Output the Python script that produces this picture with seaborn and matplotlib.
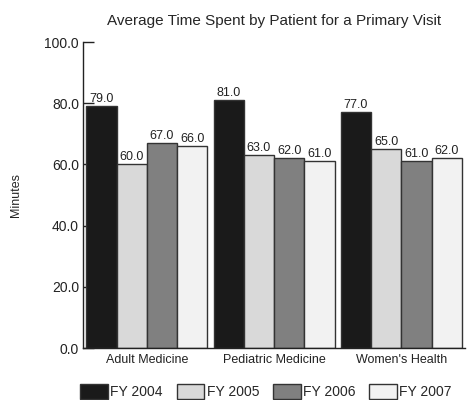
import matplotlib
matplotlib.use("Agg")
import matplotlib.pyplot as plt
import seaborn as sns
import pandas as pd
from matplotlib.ticker import FormatStrFormatter

categories = ["Adult Medicine", "Pediatric Medicine", "Women's Health"]
years = ["FY 2004", "FY 2005", "FY 2006", "FY 2007"]
fy2004 = [79.0, 81.0, 77.0]
fy2005 = [60.0, 63.0, 65.0]
fy2006 = [67.0, 62.0, 61.0]
fy2007 = [66.0, 61.0, 62.0]
colors = ["#1a1a1a", "#d9d9d9", "#808080", "#f2f2f2"]

rows = []
for yr, vals in zip(years, [fy2004, fy2005, fy2006, fy2007]):
    for c, v in zip(categories, vals):
        rows.append({"Category": c, "Year": yr, "Minutes": v})
df = pd.DataFrame(rows)

sns.set_style("white")
plt.rcParams["font.family"] = ["Liberation Sans", "DejaVu Sans"]

fig = plt.figure(figsize=(4.75, 4.0), dpi=100)
ax = fig.add_axes([0.175, 0.13, 0.804, 0.765])

sns.barplot(data=df, x="Category", y="Minutes", hue="Year", order=categories,
            hue_order=years, palette=colors, width=0.95, gap=0,
            edgecolor="#333333", linewidth=1.0, ax=ax, errorbar=None)

for cont in ax.containers:
    ax.bar_label(cont, fmt="%.1f", padding=1, fontsize=9, color="#222222")

ax.set_ylim(0, 100)
ax.set_xlim(-0.5, 2.5)
ax.set_yticks([0, 20, 40, 60, 80, 100])
ax.yaxis.set_major_formatter(FormatStrFormatter("%.1f"))
ax.tick_params(axis="y", direction="in", length=8, width=1, colors="#222222",
               labelsize=10, left=True, pad=3)
ax.tick_params(axis="x", length=0, labelsize=9, pad=4, colors="#222222")
ax.set_xlabel("")
ax.set_ylabel("Minutes", fontsize=9, labelpad=16)
for s in ["top", "right"]:
    ax.spines[s].set_visible(False)
for s in ["left", "bottom"]:
    ax.spines[s].set_color("#222222")
    ax.spines[s].set_linewidth(1.0)

ax.set_title("Average Time Spent by Patient for a Primary Visit", fontsize=11, pad=12)

handles, labels = ax.get_legend_handles_labels()
ax.legend_.remove()
fig.legend(handles, labels, loc="lower center", ncol=4, frameon=False,
           bbox_to_anchor=(0.56, -0.03), fontsize=10, handlelength=2.0,
           handleheight=1.3, handletextpad=0.15, columnspacing=1.0)

fig.savefig("out.png", dpi=100)
